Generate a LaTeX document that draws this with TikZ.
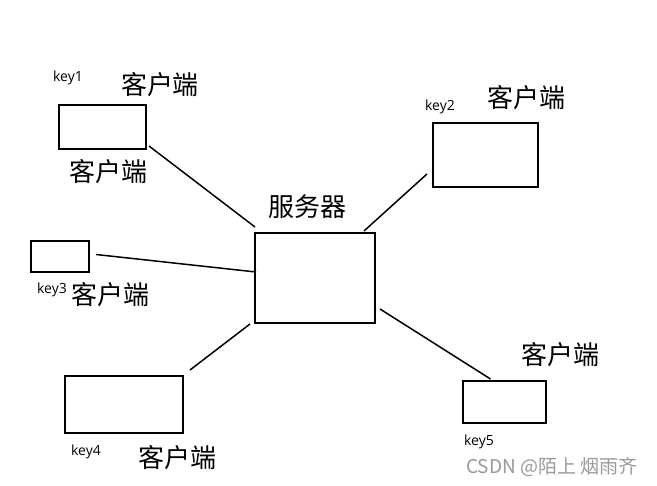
\documentclass[tikz,border=0pt]{standalone}
\usepackage{fontspec}
\usepackage{tikz}
\newfontfamily\cjk{Noto Sans CJK SC}
\newfontfamily\keyfont{Open Sans}

\begin{document}
\begin{tikzpicture}[x=1pt,y=-1pt,
		box/.style={draw,line width=2pt,inner sep=0pt},
		wire/.style={line width=1.5pt},
		zh/.style={font=\cjk\fontsize{26}{30}\selectfont,inner sep=0pt},
		keytxt/.style={font=\keyfont\fontsize{14}{16}\selectfont,inner sep=0pt}]
				\fill [white](0,0)rectangle(657,486);
				\useasboundingbox (0,0)rectangle(657,486);
				\node [box,minimum width=87,minimum height=44] (c1) at (102.5,127){};
				\node [box,minimum width=105,minimum height=64] (c2) at (485.5,155){};
				\node [box,minimum width=120,minimum height=90] (srv) at (315,278){};
				\node [box,minimum width=58,minimum height=31] (c3) at (60,256.5){};
				\node [box,minimum width=118,minimum height=57] (c4) at (124,404.5){};
				\node [box,minimum width=83,minimum height=42] (c5) at (504.5,402){};
				\draw [wire]([shift={(2,-4)}]c1.south east)--([shift={(1,-5)}]srv.north west);
				\draw [wire]([shift={(-5,-14)}]c2.south west)--([shift={(-12,-1)}]srv.north east);
				\draw [wire]([shift={(6,-2)}]c3.east)--([shift={(2,-6)}]srv.west);
				\draw [wire]([shift={(-4,0)}]srv.south west)--([shift={(6,-5)}]c4.north east);
				\draw [wire]([shift={(4,-15)}]srv.south east)--([shift={(-14,-1)}]c5.north);
				\node [keytxt] (k1) at (68,78){key1};
				\node [zh] (t1) at (160,85){客户端};
				\node [zh] (t1b) at (108,172){客户端};
				\node [keytxt] (k2) at (440,107){key2};
				\node [zh] (t2) at (526,98){客户端};
				\node [zh] (ts) at (307,207){服务器};
				\node [keytxt] (k3) at (52,290){key3};
				\node [zh] (t3) at (110,295){客户端};
				\node [keytxt] (k4) at (86,452){key4};
				\node [zh] (t4) at (177,458){客户端};
				\node [zh] (t5) at (560,355){客户端};
				\node [keytxt] (k5) at (479,442){key5};
				\node [font=\cjk\fontsize{19}{21}\selectfont,text=black!40,inner sep=0pt] (wm) at (552,467){CSDN @陌上 烟雨齐};
			\end{tikzpicture}
\end{document}
